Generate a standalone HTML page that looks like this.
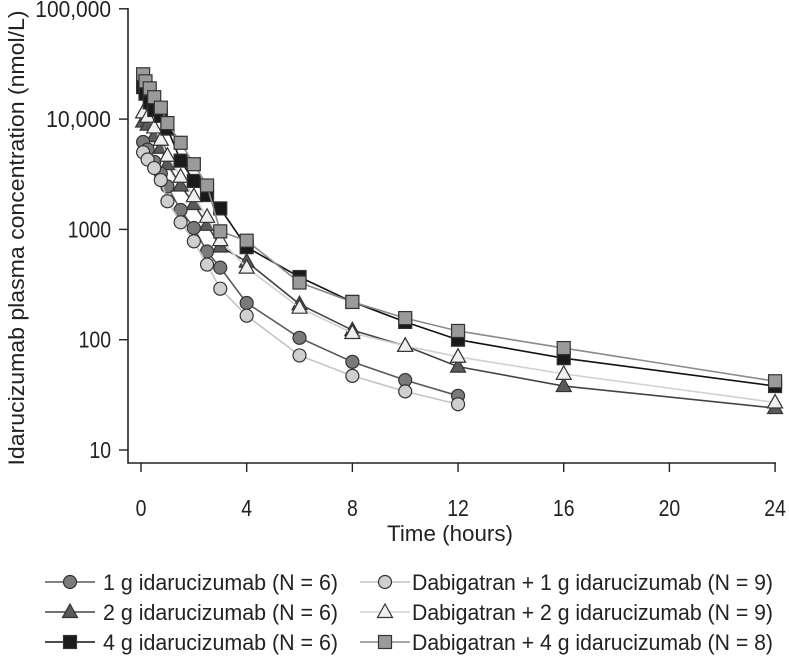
<!DOCTYPE html>
<html><head><meta charset="utf-8"><style>
body{margin:0;background:#fff}
svg{display:block;font-family:"Liberation Sans Narrow","Liberation Sans",sans-serif}
</style></head><body>
<svg id="chart" width="789" height="658" viewBox="0 0 789 658">
<g id="axes"></g>
<g id="series"></g>
<g id="legend"></g>
</svg>
<script>
const tA = [0.08,0.17,0.33,0.5,0.75,1,1.5,2,2.5,3,4,6,8,10,12,16,24];
const tB = [0.08,0.25,0.5,0.75,1,1.5,2,2.5,3,4,6,8,10,12,16,24];
const tC = [0.08,0.25,0.5,0.75,1,1.5,2,2.5,3,4,6,8,10,12];
const v1g = [6200,5300,4100,3200,2450,1500,1030,630,450,215,104,63,43,31];
const vD1g = [5000,4300,3600,2800,1800,1160,780,480,290,165,72,47,34,26];
const v2g = [9500,8900,7000,5500,3900,2500,1700,1100,700,510,210,122,88,57,38,24];
const vD2g = [11500,10500,8400,6500,4650,3000,2000,1300,800,450,195,115,88,70,49,27];
const v4g = [19500,17000,14200,12100,10700,8200,4200,2750,2050,1550,690,370,220,145,100,68,38];
const vD4g = [25500,22000,19000,15800,12700,9200,6100,3900,2500,960,790,330,220,157,120,84,42];
const xTicks = [0,4,8,12,16,20,24];
const yTicks = [10,100,1000,10000,100000];
const yTickLabels = ["10","100","1000","10,000","100,000"];
const legendLabels = ["1 g idarucizumab (N = 6)","2 g idarucizumab (N = 6)","4 g idarucizumab (N = 6)","Dabigatran + 1 g idarucizumab (N = 9)","Dabigatran + 2 g idarucizumab (N = 9)","Dabigatran + 4 g idarucizumab (N = 8)"];

const NS="http://www.w3.org/2000/svg";
const X = t => 141 + t*26.42;
const Y = v => 450 - 110.3*(Math.log10(v)-1);
function mk(tag, attrs, parent){const e=document.createElementNS(NS,tag);for(const k in attrs)e.setAttribute(k,attrs[k]);parent.appendChild(e);return e;}
const axes=document.getElementById('axes'), ser=document.getElementById('series'), leg=document.getElementById('legend');
const cw = 0.47; // condensed char width factor
function fit(t,size){t.setAttribute('textLength',(t.textContent.length*size*cw).toFixed(1));t.setAttribute('lengthAdjust','spacingAndGlyphs');}

let e=mk('path',{d:'M128 8 V463 H776',fill:'none',stroke:'#222','stroke-width':1.6},axes);


yTicks.forEach((v,i)=>{
  mk('line',{x1:119,x2:128,y1:Y(v),y2:Y(v),stroke:'#222','stroke-width':1.4},axes);
  const t=mk('text',{x:111,y:Y(v)+8,'text-anchor':'end','font-size':23,fill:'#222'},axes);
  t.textContent=yTickLabels[i];
  fit(t,23);
  
  
});
xTicks.forEach(v=>{
  mk('line',{x1:X(v),x2:X(v),y1:463,y2:472,stroke:'#222','stroke-width':1.4},axes);
  const t=mk('text',{x:X(v),y:516,'text-anchor':'middle','font-size':23,fill:'#222'},axes);
  t.textContent=v;
  fit(t,23);
  
  
});
let xt=mk('text',{x:450,y:541,'text-anchor':'middle','font-size':22,fill:'#222',textLength:126,lengthAdjust:'spacingAndGlyphs'},axes);
xt.textContent='Time (hours)';


let yt=mk('text',{x:0,y:0,transform:'translate(24,238) rotate(-90)','text-anchor':'middle','font-size':22,fill:'#222',textLength:455,lengthAdjust:'spacingAndGlyphs'},axes);
yt.textContent='Idarucizumab plasma concentration (nmol/L)';



function marker(shape,x,y,fill,parent){
  if(shape==='circle') return mk('circle',{cx:x,cy:y,r:6.5,fill:fill,stroke:'#333','stroke-width':1.2},parent);
  if(shape==='square') return mk('rect',{x:x-6.5,y:y-6.5,width:13,height:13,fill:fill,stroke:'#333','stroke-width':1.2},parent);
  return mk('path',{d:`M${x} ${y-8} L${x+7.5} ${y+5.5} L${x-7.5} ${y+5.5} Z`,fill:fill,stroke:'#333','stroke-width':1.2},parent);
}
const defs=[
 {t:tB,v:v2g,shape:'triangle',line:'#444',fill:'#5a5a5a',name:'idarucizumab-2g'},
 {t:tC,v:v1g,shape:'circle',line:'#5a5a5a',fill:'#7a7a7a',name:'idarucizumab-1g'},
 {t:tC,v:vD1g,shape:'circle',line:'#c4c4c4',fill:'#cfcfcf',name:'dabigatran-1g'},
 {t:tB,v:vD2g,shape:'triangle',line:'#d0d0d0',fill:'#efefef',name:'dabigatran-2g'},
 {t:tA,v:v4g,shape:'square',line:'#111',fill:'#1a1a1a',name:'idarucizumab-4g'},
 {t:tA,v:vD4g,shape:'square',line:'#8a8a8a',fill:'#9a9a9a',name:'dabigatran-4g'}
];
defs.forEach(d=>{
  const g=mk('g',{},ser);
  
  
  const pl=mk('polyline',{points:d.t.map((t,i)=>X(t)+','+Y(d.v[i])).join(' '),fill:'none',stroke:d.line,'stroke-width':1.6},g);
  
  
  d.t.forEach((t,i)=>{
    const m=marker(d.shape,X(t),Y(d.v[i]),d.fill,g);
    
    
  });
});
const legOrder=[1,0,4,2,3,5];
legOrder.forEach((di,i)=>{
  const d=defs[di];
  const col=i<3?0:1, row=i%3;
  const lx=col?360:45, ly=582+row*30;
  const g=mk('g',{},leg);
  
  
  mk('line',{x1:lx,x2:lx+50,y1:ly,y2:ly,stroke:d.line,'stroke-width':1.6},g);
  marker(d.shape,lx+25,ly,d.fill,g);
  const t=mk('text',{x:col?412:103,y:ly+8,'font-size':22,fill:'#222',lengthAdjust:'spacingAndGlyphs',textLength:col?361:235},g);
  t.textContent=legendLabels[i];
});
</script>
</body></html>
